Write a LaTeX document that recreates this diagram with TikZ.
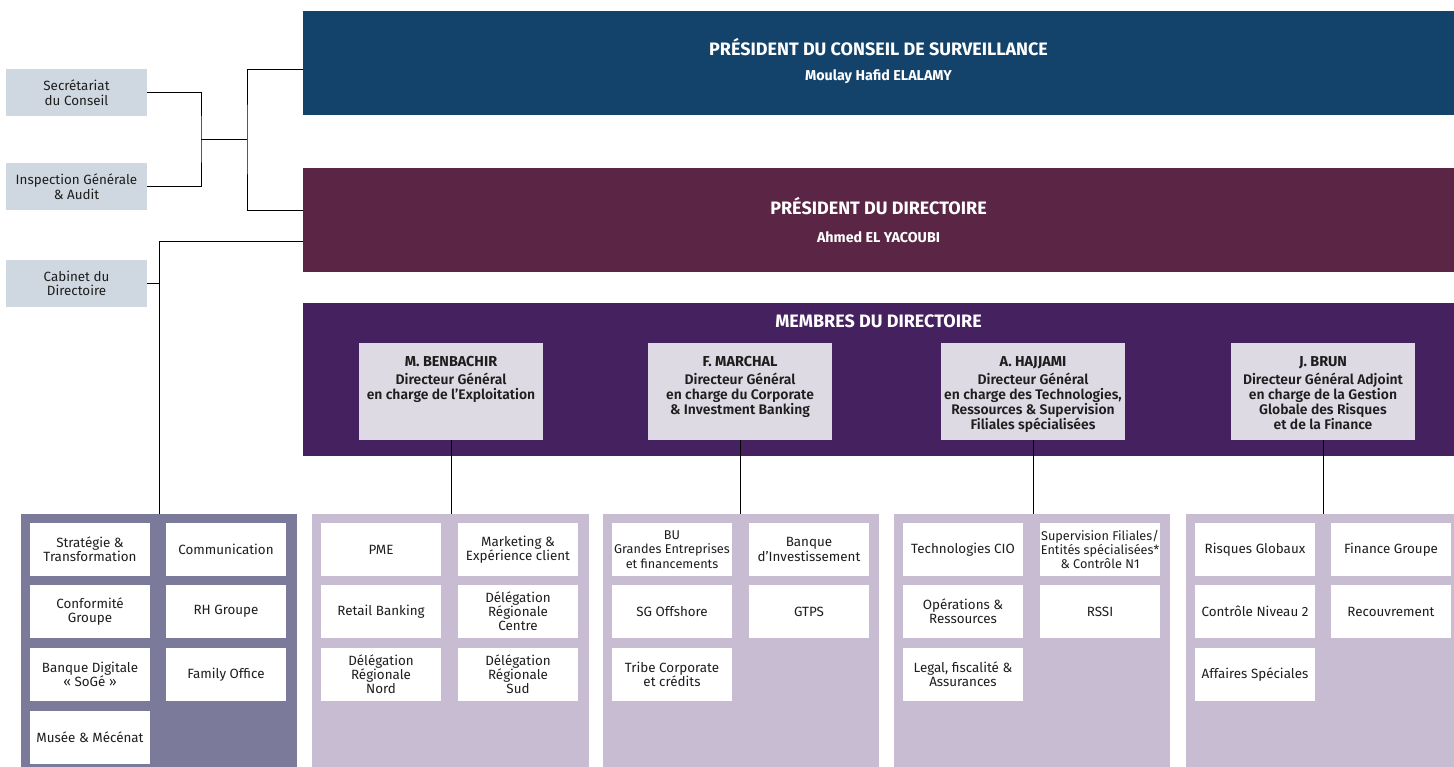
\documentclass[tikz,border=0pt]{standalone}
\usepackage{fontspec}
\setmainfont{Fira Sans}
\newfontfamily\semib{Fira Sans SemiBold}
\definecolor{bluebar}{HTML}{13426A}
\definecolor{plumbar}{HTML}{5B2646}
\definecolor{violetbar}{HTML}{452160}
\definecolor{cardbg}{HTML}{DEDAE4}
\definecolor{sidebg}{HTML}{CFD8E0}
\definecolor{panelA}{HTML}{7B7A9B}
\definecolor{panelB}{HTML}{C8BCD2}
\definecolor{txt}{HTML}{1E1E1E}
\newcommand{\cardname}[1]{{\rmfamily\bfseries\fontsize{14.4}{15}\selectfont #1}}
\begin{document}
\begin{tikzpicture}[x=1pt,y=-1pt,
  bar/.style={fill=#1, draw=none, inner sep=0, minimum width=1151pt},
  bartitle/.style={text=white, font=\bfseries\fontsize{18}{20}\selectfont, inner sep=0},
  barsub/.style={text=white, font=\bfseries\fontsize{14.3}{16}\selectfont, inner sep=0},
  sidebox/.style={fill=sidebg, draw=none, minimum width=141pt, minimum height=47pt, inner sep=0, align=center, text=txt, font=\fontsize{13.4}{14.6}\selectfont},
  card/.style={fill=cardbg, draw=none, minimum width=184pt, minimum height=97pt, inner sep=0},
  cardtext/.style={anchor=north, align=center, text=txt, inner sep=0, font=\semib\fontsize{13.9}{15}\selectfont},
  panel/.style={fill=#1, draw=none, minimum height=253pt, inner sep=0},
  unit/.style={fill=white, draw=none, minimum width=120pt, minimum height=53pt, inner sep=0, align=center, text=txt, font=\fontsize{13.4}{14.2}\selectfont},
  narrowunit/.style={unit, font=\fontsize{12.7}{14.2}\selectfont},
  conn/.style={draw=black, line width=0.8pt}
]
\useasboundingbox (0,0) rectangle (1454,767);

% top bars
\node[bar=bluebar, minimum height=104pt] (pcs) at (878.5,63) {};
\node[bartitle] (pcsT) at (878.5,47) {PRÉSIDENT DU CONSEIL DE SURVEILLANCE};
\node[barsub] (pcsS) at (878.5,77) {Moulay Hafid ELALAMY};

\node[bar=plumbar, minimum height=104pt] (pd) at (878.5,220) {};
\node[bartitle] (pdT) at (878.5,206) {PRÉSIDENT DU DIRECTOIRE};
\node[barsub] (pdS) at (878.5,237) {Ahmed EL YACOUBI};

\node[bar=violetbar, minimum height=153pt] (md) at (878.5,379.5) {};
\node[bartitle] (mdT) at (878.5,321) {MEMBRES DU DIRECTOIRE};

% director cards
\node[card] (c1) at (451,391.5) {};
\node[cardtext] (c1t) at (451,356) {\cardname{M. BENBACHIR}\\[3pt]Directeur Général\\en charge de l’Exploitation};
\node[card] (c2) at (740,391.5) {};
\node[cardtext] (c2t) at (740,356) {\cardname{F. MARCHAL}\\[3pt]Directeur Général\\en charge du Corporate\\\& Investment Banking};
\node[card] (c3) at (1033,391.5) {};
\node[cardtext] (c3t) at (1033,356) {\cardname{A. HAJJAMI}\\[3pt]Directeur Général\\en charge des Technologies,\\Ressources \& Supervision\\Filiales spécialisées};
\node[card] (c4) at (1323,391.5) {};
\node[cardtext] (c4t) at (1323,356) {\cardname{J. BRUN}\\[3pt]Directeur Général Adjoint\\en charge de la Gestion\\Globale des Risques\\et de la Finance};

% side boxes
\node[sidebox] (sec) at (76.5,92.5) {Secrétariat\\du Conseil};
\node[sidebox] (insp) at (76.5,186.5) {Inspection Générale\\\& Audit};
\node[sidebox] (cab) at (76.5,283.5) {Cabinet du\\Directoire};

% panels
\node[panel=panelA, minimum width=276pt] (p0) at (159,640.5) {};
\node[panel=panelB, minimum width=277pt] (p1) at (450.5,640.5) {};
\node[panel=panelB, minimum width=276pt] (p2) at (741,640.5) {};
\node[panel=panelB, minimum width=276pt] (p3) at (1032,640.5) {};
\node[panel=panelB, minimum width=268pt] (p4) at (1320,640.5) {};

% panel 0
\node[unit] (u01) at (90,549.5) {Stratégie \&\\Transformation};
\node[unit] (u02) at (226,549.5) {Communication};
\node[unit] (u03) at (90,611.5) {Conformité\\Groupe};
\node[unit] (u04) at (226,611.5) {RH Groupe};
\node[unit] (u05) at (90,674.5) {Banque Digitale\\«~SoGé~»};
\node[unit] (u06) at (226,674.5) {Family Office};
\node[unit] (u07) at (90,737.5) {Musée \& Mécénat};

% panel 1
\node[unit] (u11) at (381,549.5) {PME};
\node[unit] (u12) at (518,549.5) {Marketing \&\\Expérience client};
\node[unit] (u13) at (381,611.5) {Retail Banking};
\node[unit] (u14) at (518,611.5) {Délégation\\Régionale\\Centre};
\node[unit] (u15) at (381,674.5) {Délégation\\Régionale\\Nord};
\node[unit] (u16) at (518,674.5) {Délégation\\Régionale\\Sud};

% panel 2
\node[narrowunit] (u21) at (672,549.5) {BU\\Grandes Entreprises\\et financements};
\node[unit] (u22) at (809,549.5) {Banque\\d’Investissement};
\node[unit] (u23) at (672,611.5) {SG Offshore};
\node[unit] (u24) at (809,611.5) {GTPS};
\node[unit] (u25) at (672,674.5) {Tribe Corporate\\et crédits};

% panel 3
\node[unit] (u31) at (963,549.5) {Technologies CIO};
\node[narrowunit] (u32) at (1100,549.5) {Supervision Filiales/\\Entités spécialisées*\\\& Contrôle N1};
\node[unit] (u33) at (963,611.5) {Opérations \&\\Ressources};
\node[unit] (u34) at (1100,611.5) {RSSI};
\node[unit] (u35) at (963,674.5) {Legal, fiscalité \&\\Assurances};

% panel 4
\node[unit] (u41) at (1255,549.5) {Risques Globaux};
\node[unit] (u42) at (1391,549.5) {Finance Groupe};
\node[unit] (u43) at (1255,611.5) {Contrôle Niveau 2};
\node[unit] (u44) at (1391,611.5) {Recouvrement};
\node[unit] (u45) at (1255,674.5) {Affaires Spéciales};

% connector coordinates
\coordinate (j1) at (201,139);
\coordinate (j2) at (247,139);
\coordinate (cb) at (303,69);
\coordinate (cp) at (303,210);
\coordinate (cc) at (303,241);

% connectors
\draw[conn] (sec.east) -| (j1) |- (insp.east);
\draw[conn] (j1) -- (j2);
\draw[conn] (cb) -| (j2) |- (cp);
\draw[conn] (cc) -| (p0.north);
\draw[conn] (cab.east) -- (cab.east -| p0.north);
\draw[conn] (c1.south) -- (c1.south |- p1.north);
\draw[conn] (c2.south) -- (c2.south |- p2.north);
\draw[conn] (c3.south) -- (c3.south |- p3.north);
\draw[conn] (c4.south) -- (c4.south |- p4.north);
\end{tikzpicture}
\end{document}
